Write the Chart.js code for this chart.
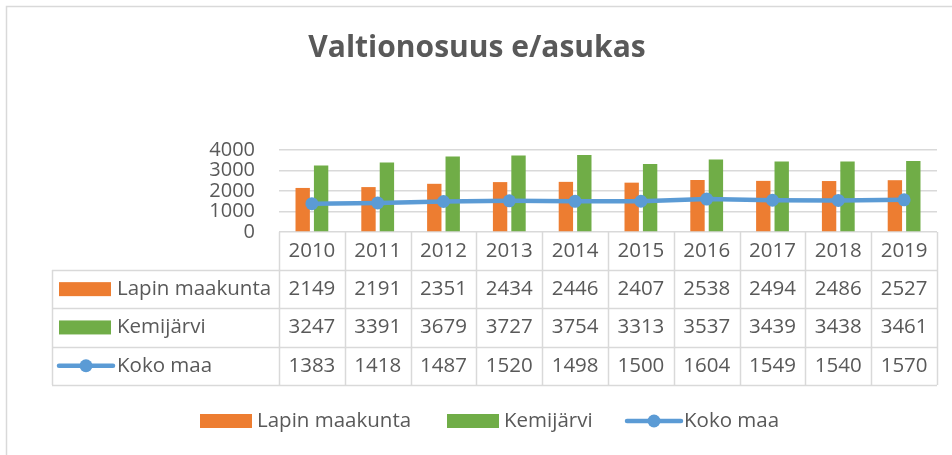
<!DOCTYPE html>
<html>
<head>
<meta charset="utf-8">
<title>Valtionosuus e/asukas</title>
<script src="https://cdn.jsdelivr.net/npm/chart.js@4/dist/chart.umd.min.js"></script>
<style>
  html, body { margin: 0; padding: 0; background: #fff; }
  canvas { display: block; }
</style>
</head>
<body>
<canvas id="chart" width="952" height="455"></canvas>
<script>
// ---------------------------------------------------------------------------
// Valtionosuus e/asukas — yhdistelmakaavio + datataulukko (Excel-tyyli)
// ---------------------------------------------------------------------------

const years = ['2010', '2011', '2012', '2013', '2014', '2015', '2016', '2017', '2018', '2019'];
const lapinMaakunta = [2149, 2191, 2351, 2434, 2446, 2407, 2538, 2494, 2486, 2527];
const kemijarvi = [3247, 3391, 3679, 3727, 3754, 3313, 3537, 3439, 3438, 3461];
const kokoMaa = [1383, 1418, 1487, 1520, 1498, 1500, 1604, 1549, 1540, 1570];
const yTicks = [0, 1000, 2000, 3000, 4000];

const TITLE = 'Valtionosuus e/asukas';
const FONT = '"Open Sans", "Noto Sans", sans-serif';
const TEXT = '#595959';
const GRID = '#d9d9d9';
const ORANGE = '#ed7d31';
const GREEN = '#70ad47';
const BLUE = '#5b9bd5';

const series = [
  { label: 'Lapin maakunta', data: lapinMaakunta, color: ORANGE, kind: 'bar' },
  { label: 'Kemijärvi', data: kemijarvi, color: GREEN, kind: 'bar' },
  { label: 'Koko maa', data: kokoMaa, color: BLUE, kind: 'line' }
];

// legend key (bar swatch or line with marker)
function drawKey(ctx, s, x, yMid) {
  if (s.kind === 'bar') {
    ctx.fillStyle = s.color;
    ctx.fillRect(x, yMid - 7, 52, 14);
  } else {
    ctx.strokeStyle = s.color;
    ctx.lineWidth = 4.5;
    ctx.lineCap = 'round';
    ctx.beginPath();
    ctx.moveTo(x, yMid);
    ctx.lineTo(x + 54, yMid);
    ctx.stroke();
    ctx.fillStyle = s.color;
    ctx.beginPath();
    ctx.arc(x + 27, yMid, 6.5, 0, Math.PI * 2);
    ctx.fill();
  }
}

const excelDecor = {
  id: 'excelDecor',
  afterDraw(chart) {
    const ctx = chart.ctx;
    const xs = chart.scales.x;
    const area = chart.chartArea;
    const colW = (area.right - area.left) / years.length;

    ctx.save();

    // chart frame
    ctx.strokeStyle = GRID;
    ctx.lineWidth = 1.5;
    ctx.strokeRect(6.5, 6.5, 1000, 1000);

    // title
    ctx.fillStyle = TEXT;
    ctx.font = 'bold 30px ' + FONT;
    ctx.textAlign = 'center';
    ctx.textBaseline = 'alphabetic';
    ctx.fillText(TITLE, 477, 57);

    // data table
    const headTop = area.bottom;
    const rowH = 38.3;
    const bodyTop = headTop + 38;
    const tableLeft = 52;
    const tableBottom = bodyTop + rowH * series.length;

    ctx.strokeStyle = GRID;
    ctx.lineWidth = 1.5;
    ctx.beginPath();
    for (let i = 0; i <= years.length; i++) {
      const x = Math.round(area.left + i * colW) + 0.5;
      ctx.moveTo(x, headTop);
      ctx.lineTo(x, tableBottom);
    }
    ctx.moveTo(tableLeft + 0.5, bodyTop);
    ctx.lineTo(tableLeft + 0.5, tableBottom);
    for (let r = 0; r <= series.length; r++) {
      const y = Math.round(bodyTop + r * rowH) + 0.5;
      ctx.moveTo(tableLeft, y);
      ctx.lineTo(area.right, y);
    }
    ctx.stroke();

    ctx.font = '20.5px ' + FONT;
    ctx.fillStyle = TEXT;
    ctx.textBaseline = 'middle';
    ctx.textAlign = 'center';
    years.forEach((y, i) => {
      ctx.fillText(y, xs.getPixelForValue(i), (headTop + bodyTop) / 2);
    });

    series.forEach((s, r) => {
      const yMid = bodyTop + rowH * (r + 0.5);
      ctx.textAlign = 'center';
      ctx.fillStyle = TEXT;
      s.data.forEach((v, i) => {
        ctx.fillText(String(v), xs.getPixelForValue(i), yMid);
      });
      drawKey(ctx, s, 59, yMid);
      ctx.textAlign = 'left';
      ctx.fillStyle = TEXT;
      ctx.fillText(s.label, 117, yMid);
    });

    // bottom legend
    const legY = 421;
    const legX = [200, 447, 627];
    series.forEach((s, i) => {
      drawKey(ctx, s, legX[i], legY);
      ctx.textAlign = 'left';
      ctx.fillStyle = TEXT;
      ctx.fillText(s.label, legX[i] + 57, legY);
    });

    ctx.restore();
  }
};

new Chart(document.getElementById('chart'), {
  data: {
    labels: years,
    datasets: [
      {
        type: 'bar',
        label: series[0].label,
        data: lapinMaakunta,
        backgroundColor: ORANGE,
        order: 2,
        barPercentage: 0.78,
        categoryPercentage: 0.56
      },
      {
        type: 'bar',
        label: series[1].label,
        data: kemijarvi,
        backgroundColor: GREEN,
        order: 2,
        barPercentage: 0.78,
        categoryPercentage: 0.56
      },
      {
        type: 'line',
        label: series[2].label,
        data: kokoMaa,
        borderColor: BLUE,
        backgroundColor: BLUE,
        borderWidth: 4.5,
        pointRadius: 6.5,
        pointBackgroundColor: BLUE,
        pointBorderWidth: 0,
        tension: 0,
        order: 1
      }
    ]
  },
  options: {
    responsive: false,
    animation: false,
    layout: { padding: { left: 0, top: 150, right: 15, bottom: 223 } },
    plugins: {
      legend: { display: false },
      title: { display: false },
      tooltip: { enabled: false }
    },
    scales: {
      x: { display: false },
      y: {
        min: 0,
        max: 4000,
        afterFit(scale) { scale.width = 279; },
        afterBuildTicks(scale) { scale.ticks = yTicks.map(v => ({ value: v })); },
        border: { display: false },
        grid: { color: GRID, lineWidth: 1.5, drawTicks: false },
        ticks: {
          autoSkip: false,
          padding: 24,
          color: TEXT,
          font: { family: FONT, size: 20 },
          callback: v => String(v)
        }
      }
    }
  },
  plugins: [excelDecor]
});
</script>
</body>
</html>
